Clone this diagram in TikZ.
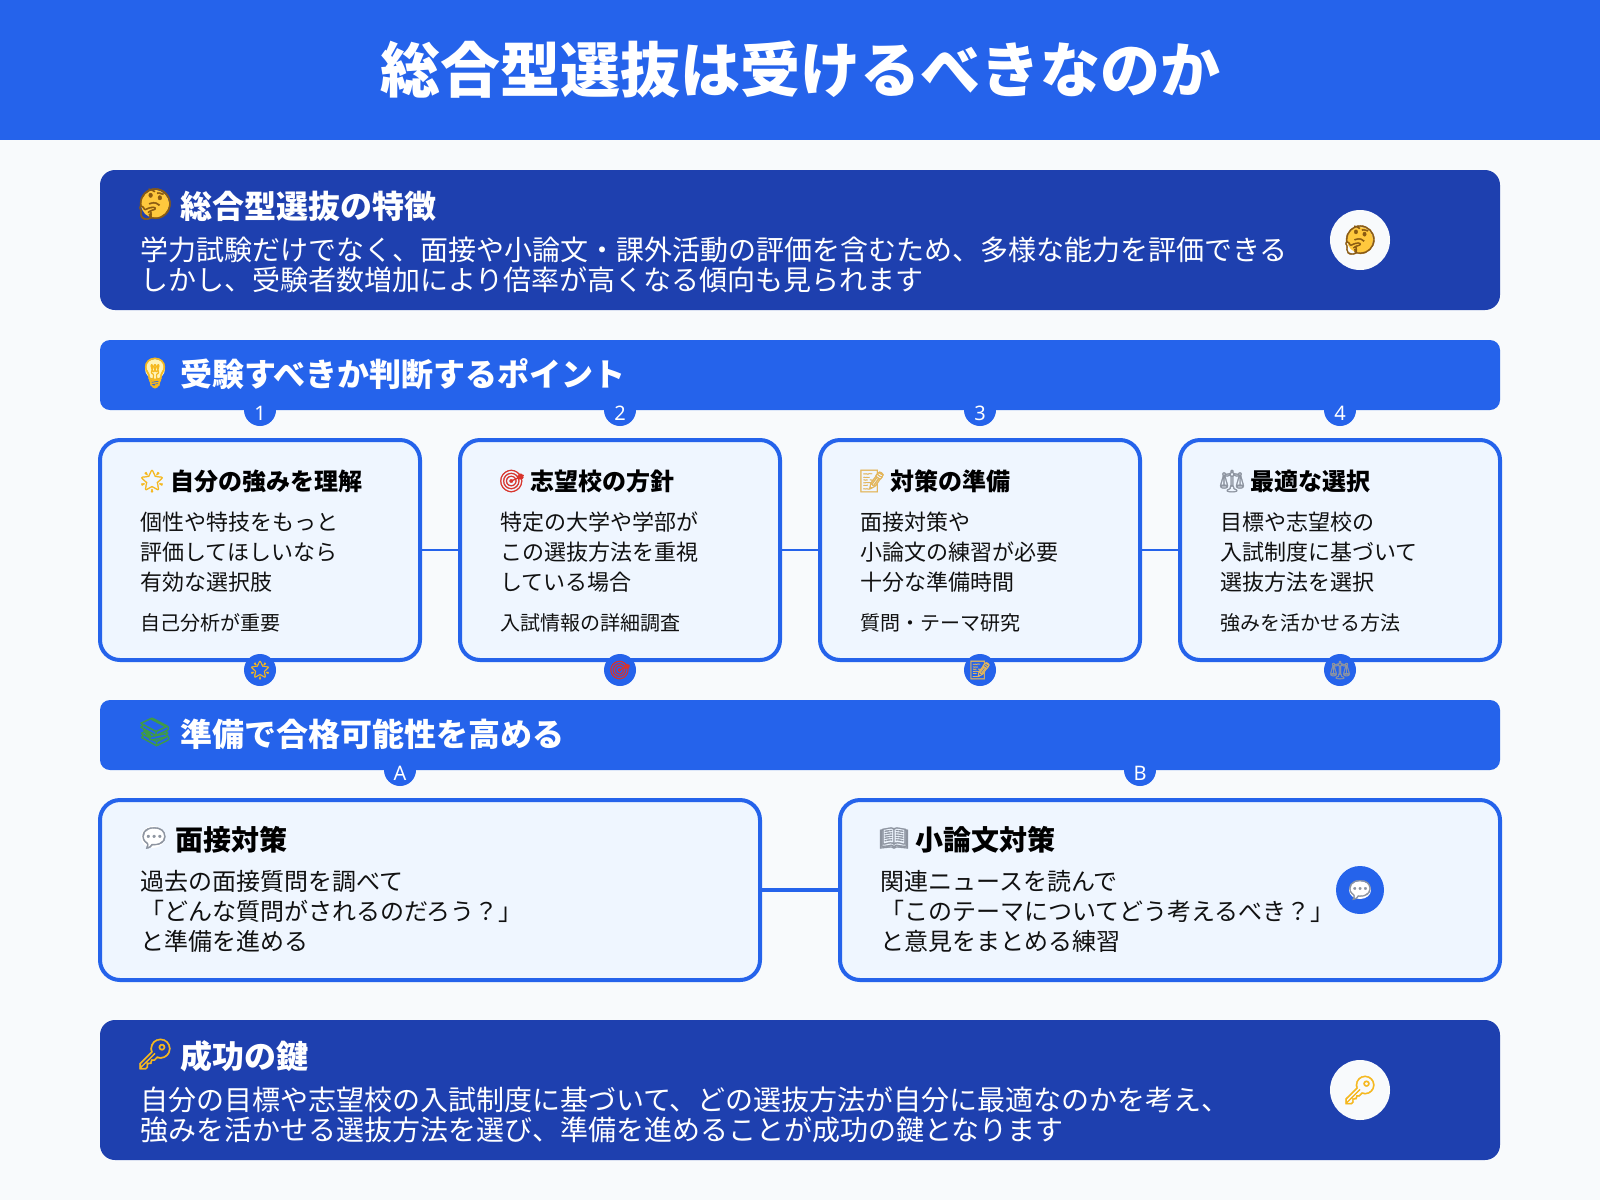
\documentclass[tikz,border=0pt]{standalone}
\usepackage{fontspec}
\setmainfont{Noto Sans CJK JP}
\newfontfamily\emojifont[FakeBold=1.5]{Noto Emoji}
\newfontfamily\latinfont{Noto Sans}
\usepackage{tikz}
\usetikzlibrary{positioning}
\definecolor{barblue}{HTML}{2563EB}
\definecolor{navyblue}{HTML}{1E40AF}
\definecolor{paleblue}{HTML}{EFF6FF}
\definecolor{pagebg}{HTML}{F8FAFC}
\definecolor{inkdark}{HTML}{111111}
\definecolor{emgold}{HTML}{F5B81F}
\definecolor{emface}{HTML}{FFC83D}
\definecolor{embrown}{HTML}{8A5A12}
\definecolor{emglow}{HTML}{FFF3B8}
\definecolor{emnote}{HTML}{E3B65B}
\definecolor{emred}{HTML}{D8342C}
\definecolor{emgray}{HTML}{8D94A0}
\definecolor{emgreen}{HTML}{3F9A48}
\begin{document}
\begin{tikzpicture}[x=1pt,y=-1pt,
    darkbox/.style={fill=navyblue,rounded corners=15pt,minimum width=1400pt,minimum height=140pt,inner sep=0pt,outer sep=0pt,anchor=north west},
    headbar/.style={fill=barblue,rounded corners=10pt,minimum width=1400pt,minimum height=70pt,inner sep=0pt,outer sep=0pt,anchor=north west},
    smallcard/.style={draw=barblue,line width=4pt,fill=paleblue,rounded corners=20pt,minimum width=320pt,minimum height=220pt,inner sep=0pt,outer sep=0pt,anchor=north west},
    widecard/.style={draw=barblue,line width=4pt,fill=paleblue,rounded corners=20pt,minimum width=660pt,minimum height=180pt,inner sep=0pt,outer sep=0pt,anchor=north west},
    link/.style={draw=barblue,line width=2pt},
    thicklink/.style={draw=barblue,line width=4pt},
    badge/.style={circle,fill=barblue,minimum size=32pt,inner sep=0pt},
    badgetxt/.style={text=white,inner sep=0pt,font=\latinfont\fontsize{20}{20}\selectfont},
    bigbadge/.style={circle,fill=pagebg,minimum size=60pt,inner sep=0pt},
    chatbadge/.style={circle,fill=barblue,minimum size=48pt,inner sep=0pt},
    titletxt/.style={text=white,font=\fontsize{60}{60}\bfseries\selectfont,inner sep=0pt},
    headtxt/.style={text=white,anchor=west,font=\fontsize{32}{34}\bfseries\selectfont,inner sep=0pt},
    leadtxt/.style={text=white,anchor=west,align=left,font=\fontsize{28}{30}\selectfont,inner sep=0pt},
    cardhead/.style={text=black,anchor=west,font=\fontsize{24}{26}\bfseries\selectfont,inner sep=0pt},
    cardtxt/.style={text=inkdark,anchor=west,align=left,font=\fontsize{22}{30}\selectfont,inner sep=0pt},
    cardnote/.style={text=inkdark,anchor=west,font=\fontsize{20}{22}\selectfont,inner sep=0pt},
    widehead/.style={text=black,anchor=west,font=\fontsize{28}{30}\bfseries\selectfont,inner sep=0pt},
    widetxt/.style={text=inkdark,anchor=west,align=left,font=\fontsize{24}{30}\selectfont,inner sep=0pt},
    emoji/.style={inner sep=0pt,font=\emojifont\fontsize{#1}{#1}\selectfont},
  ]
  \useasboundingbox (0,0) rectangle (1600,1200);
  \fill[pagebg] (0,0) rectangle (1600,1200);
  \fill[barblue] (0,0) rectangle (1600,140);
  \node[titletxt] (title) at (800,70) {総合型選抜は受けるべきなのか};

  % intro
  \node[darkbox] (intro) at (100,170) {};
  \fill[emface] (155,204) circle (14pt);
  \node[emoji=30,text=embrown] (introicon) at (155,204) {🤔};
  \node[headtxt] (introhead) at (180,206) {総合型選抜の特徴};
  \node[leadtxt] (introtxt) at (140,265) {学力試験だけでなく、面接や小論文・課外活動の評価を含むため、多様な能力を評価できる\\しかし、受験者数増加により倍率が高くなる傾向も見られます};
  \node[bigbadge] (introbadge) at (1360,240) {};
  \fill[emface] (introbadge) circle (13pt);
  \node[emoji=28,text=embrown] (introsmile) at (introbadge) {🤔};

  % points
  \node[headbar] (pointbar) at (100,340) {};
  \foreach \i/\x/\lbl in {1/260/1,2/620/2,3/980/3,4/1340/4} {
    \node[badge] (num\i) at (\x,410) {};
    \node[badgetxt] (numtxt\i) at (\x,413) {\lbl};
  }
  \fill[emglow] (155,369) circle (10pt);
  \node[emoji=30,text=emgold] (pointicon) at (155,373) {💡};
  \node[headtxt] (pointhead) at (180,374) {受験すべきか判断するポイント};

  \foreach \i/\x/\ico/\col/\ttl/\txt/\note in {
    1/100/🌟/emgold/{自分の強みを理解}/{個性や特技をもっと\\評価してほしいなら\\有効な選択肢}/{自己分析が重要},
    2/460/🎯/emred/{志望校の方針}/{特定の大学や学部が\\この選抜方法を重視\\している場合}/{入試情報の詳細調査},
    3/820/📝/emnote/{対策の準備}/{面接対策や\\小論文の練習が必要\\十分な準備時間}/{質問・テーマ研究},
    4/1180/⚖/emgray/{最適な選択}/{目標や志望校の\\入試制度に基づいて\\選抜方法を選択}/{強みを活かせる方法}} {
    \node[smallcard] (card\i) at (\x,440) {};
    \node[emoji=22,text=\col] (cardicon\i) at (\x+52,481) {\ico};
    \node[cardhead] (cardhead\i) at (\x+70,481) {\ttl};
    \node[cardtxt] (cardtxt\i) at (\x+40,552) {\txt};
    \node[cardnote] (cardnote\i) at (\x+40,623) {\note};
    \node[badge] (mark\i) at (\x+160,670) {};
    \node[emoji=18,text=\col] (markicon\i) at (mark\i) {\ico};
  }
  \foreach \a/\b in {1/2,2/3,3/4}
    \draw[link] (card\a) -- (card\b);

  % preparation
  \node[headbar] (prepbar) at (100,700) {};
  \foreach \i/\x/\lbl in {a/400/A,b/1140/B} {
    \node[badge] (sec\i) at (\x,770) {};
    \node[badgetxt] (sectxt\i) at (\x,773) {\lbl};
  }
  \node[emoji=28,text=emgreen] (prepicon) at (155,732) {📚};
  \node[headtxt] (prephead) at (180,734) {準備で合格可能性を高める};

  \node[widecard] (talk) at (100,800) {};
  \fill[white] (153,837) ellipse (12pt and 11pt);
  \node[emoji=26,text=emgray] (talkicon) at (154,838) {💬};
  \node[widehead] (talkhead) at (175,840) {面接対策};
  \node[widetxt] (talktxt) at (140,911) {過去の面接質問を調べて\\「どんな質問がされるのだろう？」\\と準備を進める};

  \node[widecard] (essay) at (840,800) {};
  \node[emoji=24,text=emgray] (essayicon) at (894,838) {📖};
  \node[widehead] (essayhead) at (915,840) {小論文対策};
  \node[widetxt] (essaytxt) at (880,911) {関連ニュースを読んで\\「このテーマについてどう考えるべき？」\\と意見をまとめる練習};
  \draw[thicklink] (talk) -- (essay);
  \node[chatbadge] (chat) at (1360,890) {};
  \fill[white] (chat) ellipse (11pt and 9pt);
  \node[emoji=24,text=emgray] (chaticon) at (chat) {💬};

  % key
  \node[darkbox] (key) at (100,1020) {};
  \node[emoji=30,text=emgold] (keyicon) at (155,1054) {🔑};
  \node[headtxt] (keyhead) at (180,1056) {成功の鍵};
  \node[leadtxt] (keytxt) at (140,1115) {自分の目標や志望校の入試制度に基づいて、どの選抜方法が自分に最適なのかを考え、\\強みを活かせる選抜方法を選び、準備を進めることが成功の鍵となります};
  \node[bigbadge] (keybadge) at (1360,1090) {};
  \node[emoji=28,text=emgold] (keysmall) at (keybadge) {🔑};
\end{tikzpicture}
\end{document}
